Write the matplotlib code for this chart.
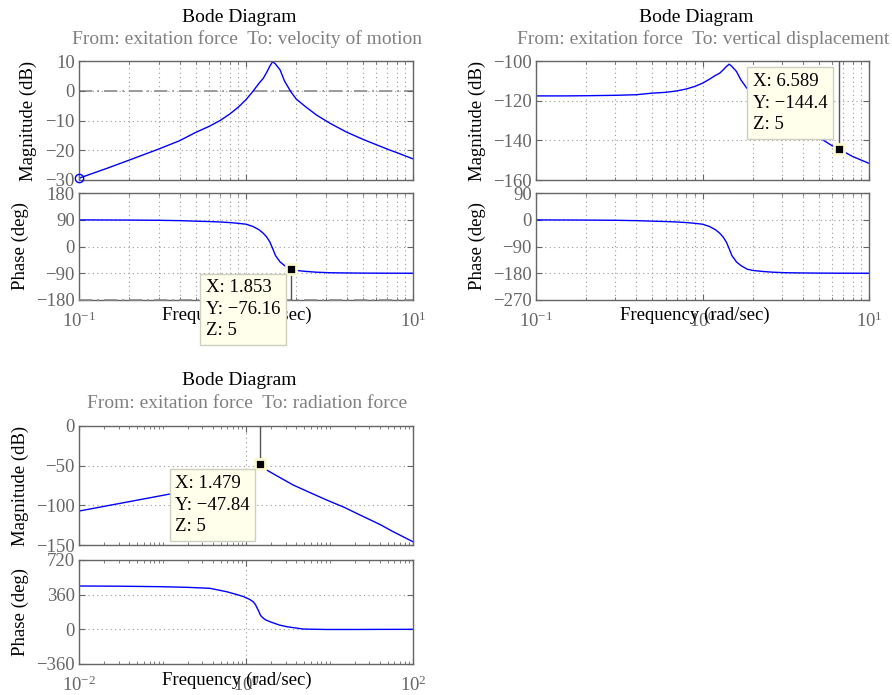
import matplotlib
matplotlib.use('Agg')
import matplotlib.pyplot as plt
from matplotlib.ticker import NullFormatter

# ---------------- data ----------------
# from: exitation force  to: velocity of motion
w_vel = [0.1, 0.15, 0.2, 0.3, 0.4, 0.5, 0.6, 0.7, 0.8, 0.9, 1.0, 1.1, 1.2, 1.27, 1.33,
         1.39, 1.445, 1.5, 1.6, 1.7, 1.853, 2.0, 2.3, 2.65, 3.2, 4, 5, 6, 6.589, 7, 8, 10]
mag_vel = [-29.4, -25.9, -23.3, -19.6, -16.8, -14.0, -12.0, -10.0, -7.8, -5.5, -3.0, -0.2, 2.6, 4.2, 6.2,
           8.3, 9.8, 9.0, 7.0, 3.3, -0.3, -2.8, -5.6, -8.2, -11.0, -13.9, -16.3, -18.1, -19.0, -19.6, -20.8, -22.9]
ph_vel = [89.5, 89.2, 88.9, 88.2, 87.0, 85.3, 84.0, 82.5, 80.5, 78.0, 75.0, 67.5, 56.0, 44.4, 32.0,
          15.0, -7.0, -30.0, -52.0, -64.0, -76.16, -80.5, -84.0, -86.5, -88.3, -89.0, -89.5, -89.7, -89.8, -89.8, -89.9, -90.0]

# from: exitation force  to: vertical displacement
w_disp = w_vel
mag_disp = [-117.6, -117.6, -117.5, -117.3, -117.0, -116.2, -115.8, -115.1, -114.1, -112.8, -111.2, -109.2, -107.2,
            -106.1, -104.5, -102.8, -101.6, -102.7, -105.3, -109.5, -113.9, -117.0, -121.0, -124.9, -129.3, -134.1,
            -138.5, -142.7, -144.4, -145.6, -148.2, -151.6]
ph_disp = [-0.5, -0.8, -1.1, -1.8, -3.0, -4.7, -6.0, -7.5, -9.5, -12.0, -15.0, -22.5, -34.0, -45.6, -58.0,
           -75.0, -97.0, -120.0, -142.0, -154.0, -166.2, -170.5, -174.0, -176.5, -178.3, -179.0, -179.5, -179.7,
           -179.8, -179.8, -179.9, -180.0]

# from: exitation force  to: radiation force
w_rad_mag = [0.01, 0.03, 0.1, 0.3, 0.6, 1.0, 1.2, 1.35, 1.479, 1.6, 1.77, 2.5, 3.68, 6, 9.25, 15, 23.2, 40, 58, 100]
mag_rad = [-107.2, -97.8, -87.5, -78.0, -72.0, -64.0, -58.0, -52.0, -47.84, -50.5, -55.5, -64.5, -74.4, -84.5,
           -93.3, -102.5, -112.2, -124.0, -133.3, -145.9]
w_rad_ph = [0.01, 0.03, 0.093, 0.2, 0.37, 0.59, 0.8, 0.93, 1.1, 1.22, 1.3, 1.4, 1.48, 1.54, 1.7, 1.94, 2.5,
            3.1, 4.85, 9.25, 20, 40, 100]
ph_rad = [450, 448, 443, 436, 426, 390, 358, 340, 312, 287, 255, 200, 152, 131, 100, 79, 45,
          27, 3, -1.5, -1.5, -0.5, 0]

# data tips (x, y)
tip_vel = (1.853, -76.16)
tip_disp = (6.589, -144.4)
tip_rad = (1.479, -47.84)

# ---------------- style ----------------
plt.rcParams['font.family'] = ['Liberation Serif', 'DejaVu Serif']
plt.rcParams['mathtext.fontset'] = 'custom'
plt.rcParams['mathtext.rm'] = 'Liberation Serif'
plt.rcParams['mathtext.it'] = 'Liberation Serif:italic'
plt.rcParams['font.size'] = 13.5

GRAY = '#666666'
GRIDC = '#9a9a9a'
BLUE = '#0000ff'
W, H = 892, 695

fig = plt.figure(figsize=(W / 100, H / 100), dpi=100)


def px_axes(x0, y0, x1, y1):
    return fig.add_axes([x0 / W, 1 - y1 / H, (x1 - x0) / W, (y1 - y0) / H])


def setup(ax, xlim, ylim, yticks, xmaj, xmin_, minor_grid, labels):
    ax.set_xscale('log')
    ax.set_xlim(xlim)
    ax.set_ylim(ylim)
    ax.set_yticks(yticks)
    ax.set_xticks(xmaj)
    ax.set_xticks(xmin_, minor=True)
    ax.xaxis.set_minor_formatter(NullFormatter())
    ax.tick_params(which='both', direction='in', top=True, right=True, colors=GRAY, pad=3)
    ax.tick_params(which='major', length=4)
    ax.tick_params(which='minor', length=2)
    ax.tick_params(axis='x', pad=8)
    if not labels:
        ax.tick_params(axis='x', labelbottom=False)
    ax.grid(True, which='major', ls=(0, (1, 3)), color=GRIDC, lw=0.8)
    if minor_grid:
        ax.xaxis.grid(True, which='minor', ls=(0, (1, 3)), color=GRIDC, lw=0.8)
    for s in ax.spines.values():
        s.set_color(GRAY)
        s.set_linewidth(1)


def datatip(ax, x, y, text, dx, dy, stem_to):
    ax.plot([x, x], [y, stem_to], color='#555555', lw=1, zorder=9)
    ax.plot([x], [y], 's', ms=6.5, mfc='k', mec='#fbf8d2', mew=2, zorder=11, clip_on=False)
    ax.annotate(text, xy=(x, y), xytext=(dx, dy), textcoords='offset pixels', ha='left', va='top',
                linespacing=1.35, zorder=12,
                bbox=dict(boxstyle='square,pad=0.3', fc='#ffffec', ec='#cfcfbf', lw=1))


minors2 = [m * 10.0 ** e for e in (-1, 0) for m in range(2, 10)]
minors4 = [m * 10.0 ** e for e in (-2, -1, 0, 1) for m in range(1, 10) if not (m == 1 and e in (-2, 0))]

# ---- top left: velocity of motion ----
ax1 = px_axes(79, 61, 413, 180)
setup(ax1, (0.1, 10), (-30, 10), [-30, -20, -10, 0, 10], [0.1, 1, 10], minors2, True, False)
ax1.axhline(0, color='#8a8a8a', lw=1.2, ls=(0, (8, 3, 1, 3)), zorder=1)
ax1.plot(w_vel, mag_vel, color=BLUE, lw=1)
ax1.plot([w_vel[0]], [mag_vel[0]], 'o', mfc='none', mec=BLUE, ms=6, clip_on=False, zorder=5)
ax1.set_ylabel('Magnitude (dB)', labelpad=6)

ax2 = px_axes(79, 193, 413, 300)
setup(ax2, (0.1, 10), (-180, 180), [-180, -90, 0, 90, 180], [0.1, 1, 10], minors2, True, True)
ax2.axhline(-180, color='#8a8a8a', lw=1.2, ls=(0, (8, 3, 1, 3)), zorder=3, clip_on=False)
ax2.plot(w_vel, ph_vel, color=BLUE, lw=1)
ax2.set_ylabel('Phase (deg)', labelpad=5)
ax2.set_xlabel('Frequency (rad/sec)', va='center')
ax2.xaxis.set_label_coords(0.473, -0.14)
datatip(ax2, tip_vel[0], tip_vel[1], 'X: 1.853\nY: \u221276.16\nZ: 5', -85, -10, -180)

# ---- top right: vertical displacement ----
ax3 = px_axes(536, 61, 869, 180)
setup(ax3, (0.1, 10), (-160, -100), [-160, -140, -120, -100], [0.1, 1, 10], minors2, True, False)
ax3.plot(w_disp, mag_disp, color=BLUE, lw=1)
ax3.set_ylabel('Magnitude (dB)', labelpad=5)
datatip(ax3, tip_disp[0], tip_disp[1], 'X: 6.589\nY: \u2212144.4\nZ: 5', -86, 76, -100)

ax4 = px_axes(536, 193, 869, 300)
setup(ax4, (0.1, 10), (-270, 90), [-270, -180, -90, 0, 90], [0.1, 1, 10], minors2, True, True)
ax4.plot(w_disp, ph_disp, color=BLUE, lw=1)
ax4.set_ylabel('Phase (deg)', labelpad=5)
ax4.set_xlabel('Frequency (rad/sec)', va='center')
ax4.xaxis.set_label_coords(0.477, -0.14)

# ---- bottom left: radiation force ----
ax5 = px_axes(79, 426, 413, 545)
setup(ax5, (0.01, 100), (-150, 0), [-150, -100, -50, 0], [0.01, 1, 100], minors4, False, False)
ax5.plot(w_rad_mag, mag_rad, color=BLUE, lw=1)
ax5.set_ylabel('Magnitude (dB)', labelpad=5)
datatip(ax5, tip_rad[0], tip_rad[1], 'X: 1.479\nY: \u221247.84\nZ: 5', -85, -11, 0)

ax6 = px_axes(79, 560, 413, 664)
setup(ax6, (0.01, 100), (-360, 720), [-360, 0, 360, 720], [0.01, 1, 100], minors4, False, True)
ax6.plot(w_rad_ph, ph_rad, color=BLUE, lw=1)
ax6.set_ylabel('Phase (deg)', labelpad=5)
ax6.set_xlabel('Frequency (rad/sec)', va='center')
ax6.xaxis.set_label_coords(0.473, -0.155)

# ---- titles ----
def fig_text(x, y, s, color='k', size=13.5):
    fig.text(x / W, 1 - y / H, s, ha='center', va='center', color=color, fontsize=size)


fig_text(239, 17, 'Bode Diagram', size=14)
fig_text(247, 39, 'From: exitation force  To: velocity of motion', '#808080', 14)
fig_text(696, 17, 'Bode Diagram', size=14)
fig_text(703, 39, 'From: exitation force  To: vertical displacement', '#808080', 14)
fig_text(239, 381, 'Bode Diagram', size=14)
fig_text(247, 404, 'From: exitation force  To: radiation force', '#808080', 14)

fig.savefig('out.png', dpi=100)
